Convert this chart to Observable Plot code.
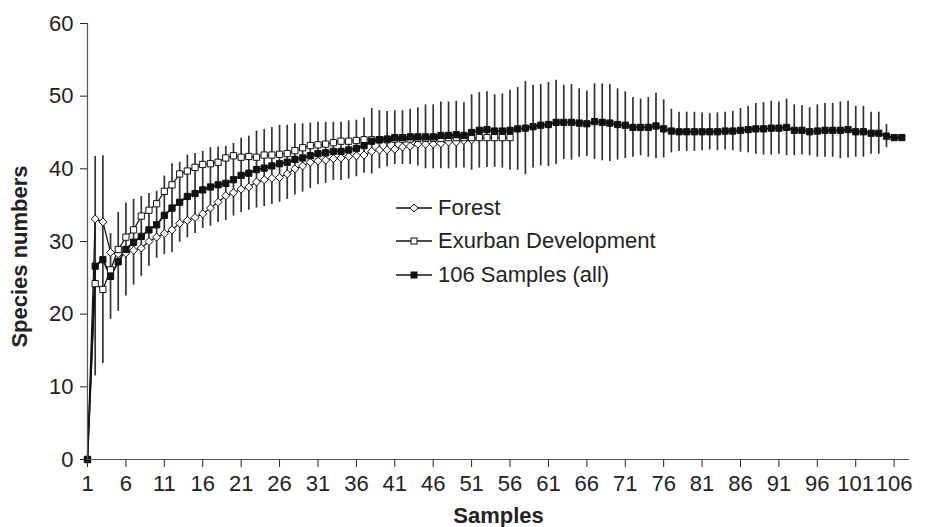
<!DOCTYPE html>
<html><head><meta charset="utf-8">
<script src="https://cdn.jsdelivr.net/npm/d3@7"></script>
<script src="https://cdn.jsdelivr.net/npm/@observablehq/plot@0.6"></script>
<style>
body{margin:0;background:#fff;}
#wrap{position:relative;width:930px;height:527px;font-family:"Liberation Sans",Arial,sans-serif;}
.lg{position:absolute;left:396px;display:flex;align-items:center;height:26px;font-size:22px;color:#222;white-space:nowrap;}
.lg svg{margin-right:6px;display:block}
</style></head><body><div id="wrap"></div>
<script>
// Species accumulation values, sample index 1..N
const forest = [0, 33.1, 32.7, 28.5, 28.3, 28.4, 28.8, 29.1, 30.0, 30.6, 31.1, 31.6, 32.5, 32.9, 33.3, 33.8, 34.6, 35.4, 36.3, 36.7,
  37.2, 37.5, 38.2, 38.5, 38.7, 38.8, 39.3, 40.0, 40.4, 40.9, 41.1, 41.2, 41.4, 41.5, 41.7, 41.8, 41.9, 42.4, 42.6, 42.6,
  42.7, 43.0, 43.1, 43.4, 43.4, 43.4, 43.5, 43.7, 43.7, 43.9, 44.0];
const exurban = [0, 24.2, 23.4, 26.1, 28.9, 30.6, 31.6, 33.5, 34.3, 35.2, 36.9, 37.8, 39.3, 39.7, 40.2, 40.6, 40.7, 40.9, 41.5, 41.8,
  41.6, 41.7, 41.6, 41.9, 41.9, 42.0, 42.1, 42.5, 42.9, 43.2, 43.3, 43.4, 43.6, 43.8, 43.8, 43.9, 44.0, 44.0, 44.0, 44.0,
  44.1, 44.1, 44.1, 44.2, 44.2, 44.2, 44.2, 44.3, 44.3, 44.3, 44.3, 44.3, 44.3, 44.3, 44.3, 44.3];
const allSamples = [0, 26.6, 27.5, 25.2, 27.2, 28.9, 29.9, 30.7, 31.6, 32.3, 33.6, 34.6, 35.4, 36.2, 36.6, 37.1, 37.5, 37.8, 38.0, 38.5,
  39.1, 39.4, 39.9, 40.1, 40.4, 40.7, 40.9, 41.3, 41.5, 41.8, 42.1, 42.2, 42.4, 42.4, 42.6, 42.8, 43.2, 43.8, 44.0, 44.1,
  44.3, 44.3, 44.4, 44.4, 44.4, 44.4, 44.6, 44.6, 44.7, 44.6, 45.0, 45.3, 45.4, 45.2, 45.2, 45.3, 45.5, 45.6, 45.8, 46.0,
  46.1, 46.4, 46.4, 46.4, 46.3, 46.2, 46.5, 46.4, 46.3, 46.1, 46.0, 45.7, 45.7, 45.7, 45.9, 45.5, 45.2, 45.1, 45.1, 45.1,
  45.1, 45.1, 45.1, 45.2, 45.2, 45.3, 45.4, 45.5, 45.5, 45.6, 45.6, 45.7, 45.3, 45.3, 45.1, 45.2, 45.3, 45.3, 45.3, 45.4,
  45.1, 45.1, 44.9, 44.9, 44.5, 44.3, 44.3];
const allSD = [0, 15.1, 14.3, 5.9, 6.8, 6.4, 5.9, 5.5, 5.0, 4.6, 5.4, 6.1, 5.5, 5.7, 5.5, 5.3, 5.4, 5.2, 5.1, 5.0,
  5.1, 5.1, 5.3, 5.3, 5.3, 5.3, 5.1, 4.9, 4.7, 4.5, 4.3, 4.2, 4.0, 4.0, 4.0, 3.9, 3.8, 4.5, 4.0, 3.8,
  3.7, 3.7, 3.8, 4.0, 4.4, 4.4, 4.6, 4.6, 4.6, 4.5, 5.2, 5.2, 5.2, 5.0, 5.1, 5.5, 5.7, 6.4, 5.7, 5.6,
  5.8, 5.8, 5.1, 5.2, 4.7, 4.5, 5.2, 5.3, 5.3, 4.9, 4.6, 4.1, 3.9, 4.1, 4.5, 4.0, 3.0, 2.7, 2.7, 2.7,
  2.6, 2.5, 2.6, 2.6, 2.7, 3.0, 3.2, 3.5, 3.6, 3.7, 3.6, 3.9, 3.5, 3.4, 3.3, 3.6, 3.7, 3.7, 3.9, 3.9,
  3.5, 3.5, 2.9, 2.9, 1.6, 0, 0];
const xTicks = [1, 6, 11, 16, 21, 26, 31, 36, 41, 46, 51, 56, 61, 66, 71, 76, 81, 86, 91, 96, 101, 106];
const yTicks = [0, 10, 20, 30, 40, 50, 60];
const seriesNames = ["Forest", "Exurban Development", "106 Samples (all)"];
const xTitle = "Samples";
const yTitle = "Species numbers";

const rows = vals => vals.map((v, i) => ({n: i + 1, v}));
const forestRows = rows(forest);
const exurbanRows = rows(exurban);
const allRows = allSamples.map((v, i) => ({n: i + 1, v, sd: allSD[i]}));
const barRows = allRows.filter(d => d.sd > 0);

const diamondSym = {draw(ctx, size) { const r = Math.sqrt(size / Math.PI); ctx.moveTo(0, -r); ctx.lineTo(r, 0); ctx.lineTo(0, r); ctx.lineTo(-r, 0); ctx.closePath(); }};
const squareSym = {draw(ctx, size) { const h = Math.sqrt(size / Math.PI) * 0.78; ctx.rect(-h, -h, 2 * h, 2 * h); }};

const chart = Plot.plot({
  width: 930, height: 527,
  marginLeft: 87, marginRight: 21, marginTop: 23, marginBottom: 68,
  style: {fontFamily: "Liberation Sans, Arial, sans-serif", fontSize: "22px", color: "#222", background: "#fff"},
  x: {domain: [1, 108], ticks: xTicks, tickFormat: d => String(d), tickSize: 8, tickPadding: 8, label: null},
  y: {domain: [0, 60], ticks: yTicks, tickSize: 7, tickPadding: 7, label: null},
  marks: [
    Plot.ruleX(barRows, {x: "n", y1: d => d.v - d.sd, y2: d => d.v + d.sd, stroke: "#333", strokeWidth: 1.7}),
    Plot.line(forestRows, {x: "n", y: "v", stroke: "#111", strokeWidth: 1.2}),
    Plot.line(exurbanRows, {x: "n", y: "v", stroke: "#111", strokeWidth: 1.2}),
    Plot.line(allRows, {x: "n", y: "v", stroke: "#111", strokeWidth: 1.8}),
    Plot.dot(forestRows, {x: "n", y: "v", symbol: diamondSym, r: 4, fill: "#fff", stroke: "#111", strokeWidth: 1}),
    Plot.dot(exurbanRows, {x: "n", y: "v", symbol: squareSym, r: 4, fill: "#fff", stroke: "#111", strokeWidth: 1}),
    Plot.dot(allRows, {x: "n", y: "v", symbol: squareSym, r: 4, fill: "#111", stroke: "#111", strokeWidth: 1}),
    Plot.ruleX([1], {stroke: "#555", strokeWidth: 1.2}),
    Plot.ruleY([0], {stroke: "#555", strokeWidth: 1.2}),
    Plot.text([xTitle], {text: d => d, frameAnchor: "bottom", textAnchor: "middle", lineAnchor: "middle", dy: 56, fontSize: 22, fontWeight: "bold", fill: "#222"}),
    Plot.text([yTitle], {text: d => d, frameAnchor: "left", textAnchor: "middle", lineAnchor: "middle", rotate: -90, dx: -68, dy: 15, fontSize: 22, fontWeight: "bold", fill: "#222"})
  ]
});
const wrap = document.getElementById("wrap");
wrap.appendChild(chart);

// Legend overlay inside the plot area
const legendTops = [195, 228, 262];
const legendKinds = ["diamond", "open", "filled"];
seriesNames.forEach((name, i) => {
  const row = document.createElement("div");
  row.className = "lg";
  row.style.top = legendTops[i] + "px";
  let marker;
  if (legendKinds[i] === "diamond") marker = '<path d="M18,2 L22,6 L18,10 L14,6 Z" fill="#fff" stroke="#111" stroke-width="1"/>';
  else if (legendKinds[i] === "open") marker = '<rect x="15" y="3" width="6" height="6" fill="#fff" stroke="#111" stroke-width="1"/>';
  else marker = '<rect x="15" y="3" width="6" height="6" fill="#111" stroke="#111" stroke-width="1"/>';
  row.innerHTML = '<svg width="36" height="12"><line x1="0" y1="6" x2="36" y2="6" stroke="#111" stroke-width="1.3"/>' + marker + '</svg><span>' + name + '</span>';
  wrap.appendChild(row);
});
</script>
</body></html>
